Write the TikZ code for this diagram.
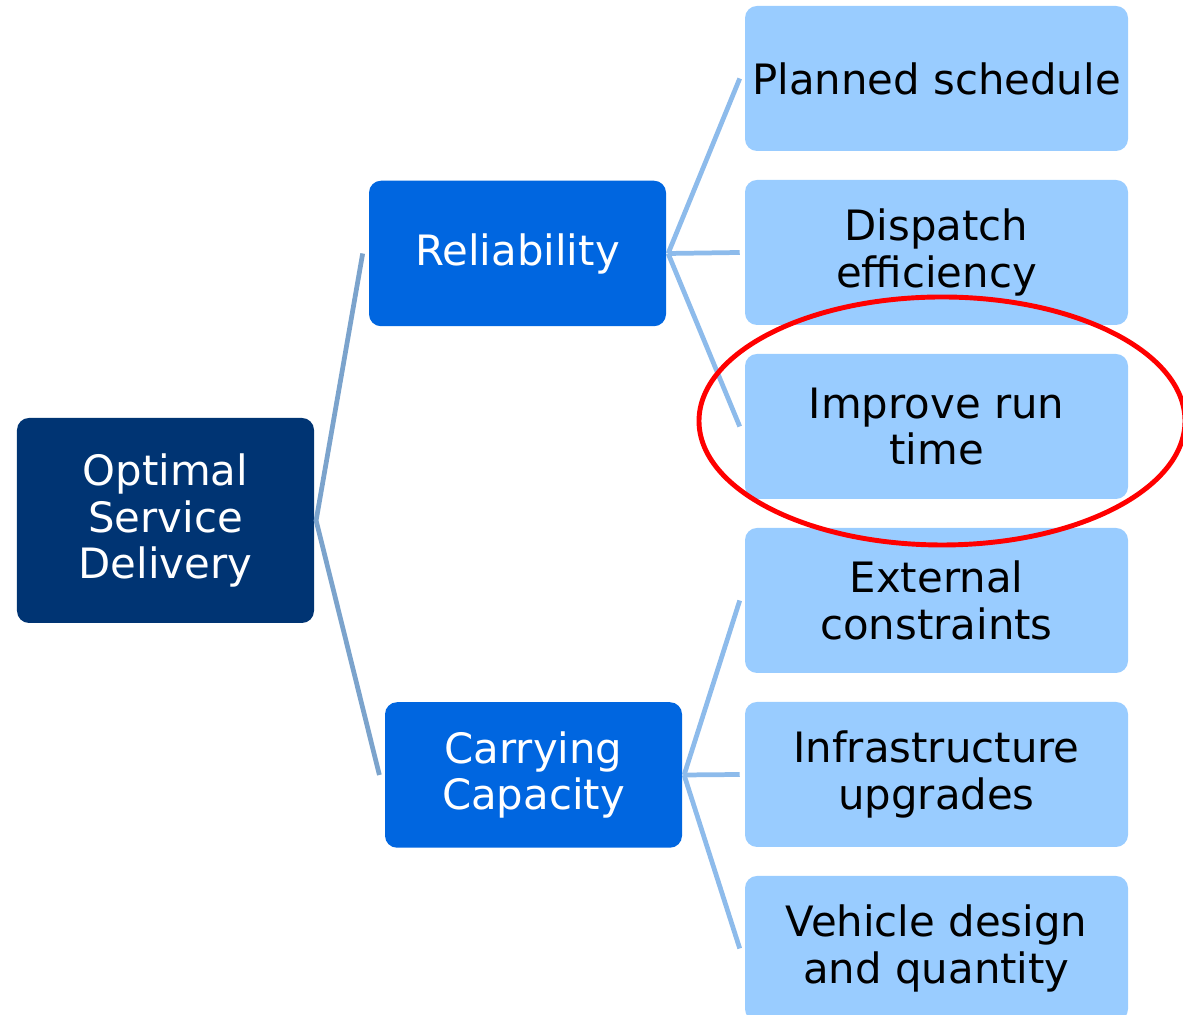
\documentclass[tikz,border=0pt]{standalone}
\usepackage{fontspec}
\setmainfont{DejaVu Sans}
\usepackage{xcolor}
\usepackage{tikz}
\usetikzlibrary{positioning,calc}

\definecolor{rootblue}{RGB}{0,52,115}
\definecolor{midblue}{RGB}{0,102,224}
\definecolor{leafblue}{RGB}{153,204,255}
\definecolor{rootlink}{RGB}{123,163,204}
\definecolor{leaflink}{RGB}{141,187,235}

\tikzset{
    box/.style={rounded corners=0.24cm, inner sep=0pt, align=center,
        font=\fontsize{23.8}{26.6}\selectfont},
    rootbox/.style={box, fill=rootblue, text=white, minimum width=5.94cm, minimum height=4.1cm},
    midbox/.style={box, fill=midblue, text=white, minimum width=5.94cm, minimum height=2.91cm},
    leafbox/.style={box, fill=leafblue, text=black, minimum width=7.66cm, minimum height=2.9cm},
    trunk/.style={draw=rootlink, line width=2.7pt},
    twig/.style={draw=leaflink, line width=2.7pt},
    ring/.style={draw=red, line width=2.8pt}
}

\begin{document}
\begin{tikzpicture}
    \useasboundingbox (0,0) rectangle (23.66,20.3);

    % Root and the two branches
    \node[rootbox] (root) at (3.31,9.89) {Optimal\\Service\\Delivery};
    \node[midbox] (reli) at (10.35,15.23) {Reliability};
    \node[midbox] (carry) at (10.67,4.80) {Carrying\\Capacity};

    % Leaves
    \node[leafbox] (plan) at (18.73,18.73) {Planned schedule};
    \node[leafbox] (disp) at (18.73,15.25) {Dispatch\\efficiency};
    \node[leafbox] (runt) at (18.73,11.77) {Improve run\\time};
    \node[leafbox] (extc) at (18.73,8.29) {External\\constraints};
    \node[leafbox] (infra) at (18.73,4.81) {Infrastructure\\upgrades};
    \node[leafbox] (vehic) at (18.73,1.33) {Vehicle design\\and quantity};

    % Links
    \draw[trunk] ([xshift=-3.4pt]reli.west) -- ([xshift=1pt]root.east) -- ([xshift=-3pt]carry.west);
    \foreach \leaf in {plan, disp, runt} {
        \draw[twig] ([xshift=1pt]reli.east) -- ([xshift=-2.8pt]\leaf.west);
    }
    \foreach \leaf in {extc, infra, vehic} {
        \draw[twig] ([xshift=1pt]carry.east) -- ([xshift=-2.8pt]\leaf.west);
    }

    % Highlight
    \draw[ring] ([shift={(0.11,0.11)}]runt.center) ellipse [x radius=4.86cm, y radius=2.48cm];
\end{tikzpicture}
\end{document}
